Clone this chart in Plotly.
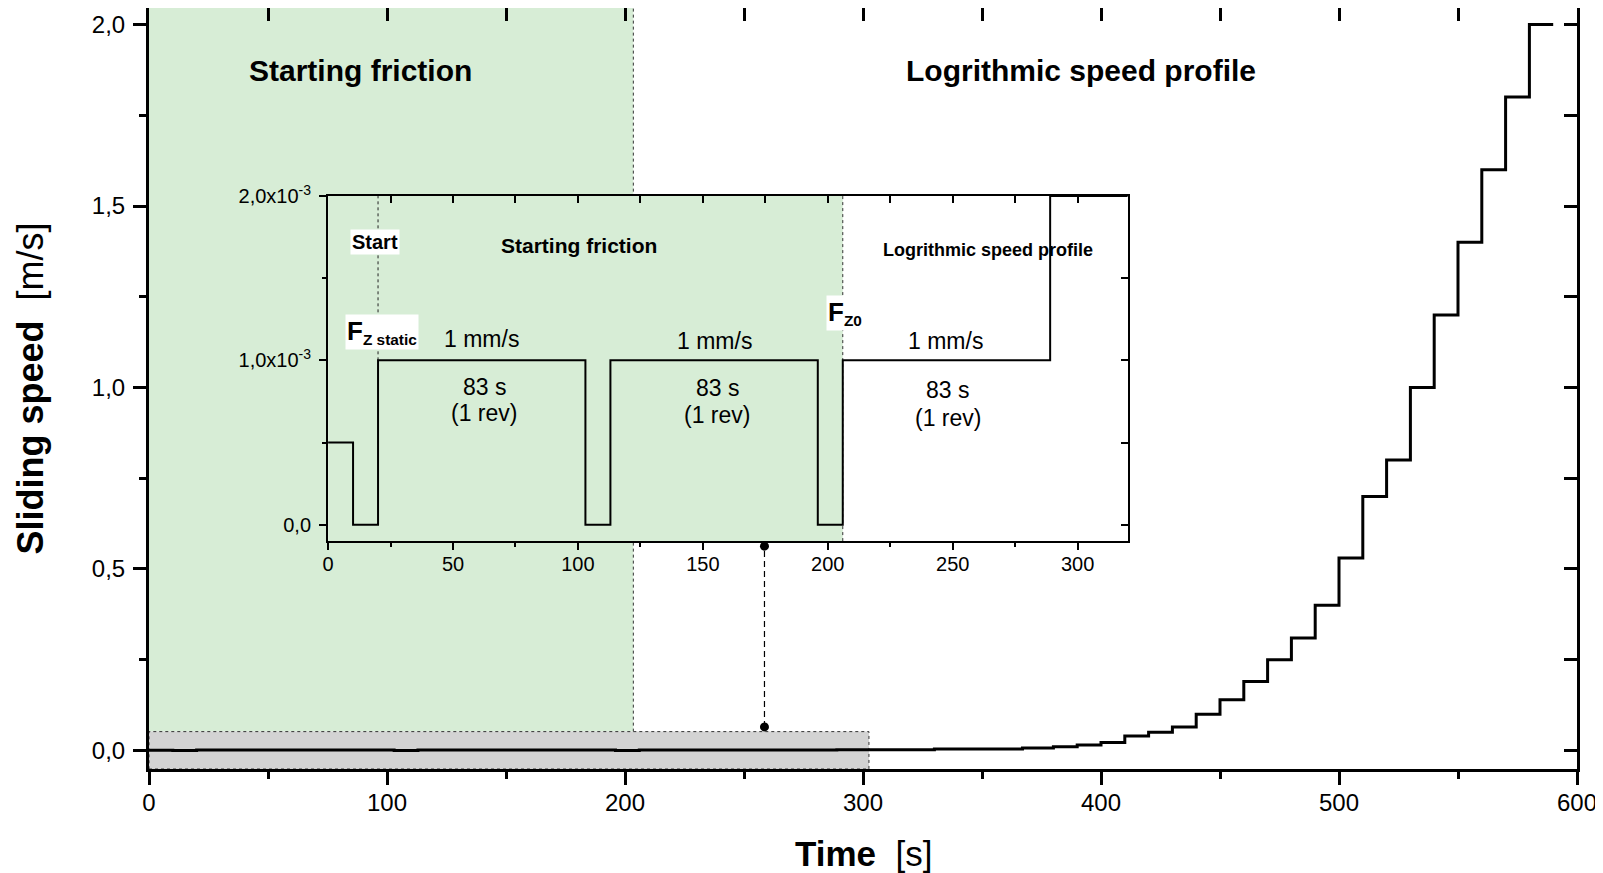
import plotly.graph_objects as go

# ---------------- data ----------------
step_start_s = [0, 10, 20, 103, 113, 196, 206, 289, 330, 367, 380, 390, 400, 410,
                420, 430, 440, 450, 460, 470, 480, 490, 500, 510, 520, 530, 540,
                550, 560, 570, 580]
step_speed_ms = [0.0005, 0.0, 0.001, 0.0, 0.001, 0.0, 0.001, 0.002, 0.004, 0.007,
                 0.01, 0.015, 0.022, 0.04, 0.05, 0.065, 0.1, 0.14, 0.19, 0.25, 0.31,
                 0.4, 0.53, 0.7, 0.8, 1.0, 1.2, 1.4, 1.6, 1.8, 2.0]
profile_end_s = 590

main_x_ticks = [0, 100, 200, 300, 400, 500, 600]
main_y_ticks = [0.0, 0.5, 1.0, 1.5, 2.0]
main_y_ticktext = ["0,0", "0,5", "1,0", "1,5", "2,0"]

inset_x_ticks = [0, 50, 100, 150, 200, 250, 300]
inset_y_ticks = [0.0, 0.001, 0.002]
inset_y_ticktext = ["0,0", "1,0x10<sup>-3</sup>", "2,0x10<sup>-3</sup>"]

# region boundaries (s / m/s)
main_start_friction_end = 203.5
main_zoom_box_end = 302.5
main_zoom_box_top = 0.052
inset_start_friction_end = 206
inset_start_mark = 20
connector_x = 258.6
connector_y = [0.065, 0.563]

# ---------------- styling ----------------
FONT = "Liberation Sans, Arial, sans-serif"
GREEN = "#d7edd6"
GRAY = "#d3d3d3"

xs = step_start_s + [profile_end_s]
ys = step_speed_ms + [step_speed_ms[-1]]

fig = go.Figure()

# main step line
fig.add_trace(go.Scatter(x=xs, y=ys, mode="lines", line=dict(shape="hv", color="black", width=3),
                         xaxis="x", yaxis="y", showlegend=False, hoverinfo="skip"))
# connector dashed line with dots
fig.add_trace(go.Scatter(x=[connector_x, connector_x], y=connector_y, mode="lines+markers",
                         line=dict(color="black", width=1.2, dash="6px,4px"),
                         marker=dict(color="black", size=9),
                         xaxis="x", yaxis="y", showlegend=False, hoverinfo="skip",
                         cliponaxis=False))
# dummy for top/right main axes
fig.add_trace(go.Scatter(x=[None], y=[None], xaxis="x2", yaxis="y2", showlegend=False, hoverinfo="skip"))
# inset step line
fig.add_trace(go.Scatter(x=xs, y=ys, mode="lines", line=dict(shape="hv", color="black", width=2),
                         xaxis="x3", yaxis="y3", showlegend=False, hoverinfo="skip"))
fig.add_trace(go.Scatter(x=[None], y=[None], xaxis="x4", yaxis="y4", showlegend=False, hoverinfo="skip"))

main_xr = [0, 600]
main_yr = [-0.051, 2.0455]
inset_xr = [0, 320]
inset_yr = [-0.0001, 0.002]

inset_dom_x = [0.1254, 0.6853]
inset_dom_y = [0.2995, 0.7529]

tickfont_main = dict(family=FONT, size=24, color="black")
tickfont_inset = dict(family=FONT, size=20, color="black")

fig.update_layout(
    width=1595, height=865,
    margin=dict(l=141, r=26, t=0, b=104, autoexpand=False),
    paper_bgcolor="white", plot_bgcolor="white",
    font=dict(family=FONT, color="black"),
    xaxis=dict(domain=[0, 1], range=main_xr, tickmode="array", tickvals=main_x_ticks,
               ticks="outside", ticklen=13, tickwidth=2.5, tickcolor="black",
               showline=True, linewidth=3, linecolor="black", showgrid=False, zeroline=False,
               tickfont=tickfont_main, ticklabelstandoff=-3,
               minor=dict(tickmode="linear", tick0=0, dtick=50, ticks="outside", ticklen=7,
                          tickwidth=2.5, tickcolor="black", showgrid=False),
               anchor="y"),
    yaxis=dict(domain=[0, 1], range=main_yr, tickmode="array", tickvals=main_y_ticks,
               ticktext=main_y_ticktext,
               ticks="outside", ticklen=13, tickwidth=2.5, tickcolor="black",
               showline=True, linewidth=3, linecolor="black", showgrid=False, zeroline=False,
               tickfont=tickfont_main, ticklabelstandoff=3,
               minor=dict(tickmode="linear", tick0=0, dtick=0.25, ticks="outside", ticklen=7,
                          tickwidth=2.5, tickcolor="black", showgrid=False),
               anchor="x"),
    xaxis2=dict(overlaying="x", side="top", range=main_xr, anchor="y2", tickmode="linear",
                tick0=0, dtick=50, ticks="inside", ticklen=13, tickwidth=2.5, tickcolor="black",
                showticklabels=False, showline=True, linewidth=3, linecolor="black",
                showgrid=False, zeroline=False),
    yaxis2=dict(overlaying="y", side="right", range=main_yr, anchor="x2", tickmode="linear",
                tick0=0, dtick=0.25, ticks="inside", ticklen=13, tickwidth=2.5, tickcolor="black",
                showticklabels=False, showline=True, linewidth=3, linecolor="black",
                showgrid=False, zeroline=False),
    xaxis3=dict(domain=inset_dom_x, range=inset_xr, anchor="y3", tickmode="array",
                tickvals=inset_x_ticks, ticks="outside", ticklen=7, tickwidth=1.5, tickcolor="black",
                showline=True, linewidth=2, linecolor="black", showgrid=False, zeroline=False,
                tickfont=tickfont_inset, ticklabelstandoff=-3,
                minor=dict(tickmode="linear", tick0=0, dtick=25, ticks="outside", ticklen=4,
                           tickwidth=1.5, tickcolor="black", showgrid=False)),
    yaxis3=dict(domain=inset_dom_y, range=inset_yr, anchor="x3", tickmode="array",
                tickvals=inset_y_ticks, ticktext=inset_y_ticktext,
                ticks="outside", ticklen=7, tickwidth=1.5, tickcolor="black",
                showline=True, linewidth=2, linecolor="black", showgrid=False, zeroline=False,
                tickfont=tickfont_inset, ticklabelstandoff=4,
                minor=dict(tickmode="linear", tick0=0, dtick=0.0005, ticks="outside", ticklen=4,
                           tickwidth=1.5, tickcolor="black", showgrid=False)),
    xaxis4=dict(overlaying="x3", side="top", range=inset_xr, anchor="y4", tickmode="linear",
                tick0=0, dtick=25, ticks="inside", ticklen=7, tickwidth=1.5, tickcolor="black",
                showticklabels=False, showline=True, linewidth=2, linecolor="black",
                showgrid=False, zeroline=False),
    yaxis4=dict(overlaying="y3", side="right", range=inset_yr, anchor="x4", tickmode="linear",
                tick0=0, dtick=0.0005, ticks="inside", ticklen=7, tickwidth=1.5, tickcolor="black",
                showticklabels=False, showline=True, linewidth=2, linecolor="black",
                showgrid=False, zeroline=False),
)

shapes = [
    # main: starting-friction region
    dict(type="rect", xref="x", yref="y", x0=0, x1=main_start_friction_end,
         y0=main_zoom_box_top, y1=main_yr[1], fillcolor=GREEN, line=dict(width=0), layer="below"),
    dict(type="line", xref="x", yref="y", x0=main_start_friction_end, x1=main_start_friction_end,
         y0=main_zoom_box_top, y1=main_yr[1], line=dict(color="#333333", width=1, dash="dot"),
         layer="below"),
    # main: zoom box
    dict(type="rect", xref="x", yref="y", x0=0, x1=main_zoom_box_end,
         y0=main_yr[0], y1=main_zoom_box_top, fillcolor=GRAY,
         line=dict(color="#333333", width=1, dash="dot"), layer="below"),
    # inset: starting friction region
    dict(type="rect", xref="x3", yref="y3", x0=0, x1=inset_start_friction_end,
         y0=inset_yr[0], y1=inset_yr[1], fillcolor=GREEN, line=dict(width=0), layer="below"),
    dict(type="line", xref="x3", yref="y3", x0=inset_start_friction_end, x1=inset_start_friction_end,
         y0=inset_yr[0], y1=inset_yr[1], line=dict(color="#333333", width=1, dash="dot"),
         layer="below"),
    dict(type="line", xref="x3", yref="y3", x0=inset_start_mark, x1=inset_start_mark,
         y0=0.001, y1=inset_yr[1], line=dict(color="#222222", width=1, dash="dot"),
         layer="below"),
]
fig.update_layout(shapes=shapes)

annots = []
def ann(text, x, y, xref, yref, size, bg=None, **kw):
    d = dict(text=text, x=x, y=y, xref=xref, yref=yref, showarrow=False,
             font=dict(family=FONT, size=size, color="black"), xanchor="center", yanchor="middle")
    if bg:
        d["bgcolor"] = bg
        d["borderpad"] = 1
    d.update(kw)
    annots.append(d)

# main texts
ann("<b>Starting friction</b>", 88.7, 1.873, "x", "y", 30)
ann("<b>Logrithmic speed profile</b>", 391.4, 1.873, "x", "y", 30)
# axis titles
ann("<b>Time</b>\u00a0\u00a0[s]", 0.5, -0.1104, "paper", "paper", 35)
ann("<b>Sliding speed</b>\u00a0\u00a0[m/s]", (30 - 149) / 1428, 0.5, "paper", "paper", 36,
    textangle=-90)

# inset texts
ann("<b>Start</b>", 18.8, 0.00172, "x3", "y3", 20, bg="white")
ann("<b>Starting friction</b>", 100.3, 0.0017, "x3", "y3", 21)
ann("<b>Logrithmic speed profile</b>", 264, 0.00167, "x3", "y3", 18)
ann("<span style='font-size:26px'><b>F</b></span><sub><b>Z static</b></sub>",
    21.5, 0.00117, "x3", "y3", 22, bg="white")
ann("<span style='font-size:26px'><b>F</b></span><sub><b>Z0</b></sub>",
    206.8, 0.00129, "x3", "y3", 22, bg="white")
for xx, y1, y2, y3 in [(61.6, 0.00113, 0.00084, 0.00068),
                       (154.7, 0.00112, 0.000832, 0.000665),
                       (247.1, 0.00112, 0.00082, 0.00065)]:
    ann("1 mm/s", xx, y1, "x3", "y3", 23)
    ann("83 s", xx + 1, y2, "x3", "y3", 23)
    ann("(1 rev)", xx + 1, y3, "x3", "y3", 23)

fig.update_layout(annotations=annots)

fig.write_html("out.html")
